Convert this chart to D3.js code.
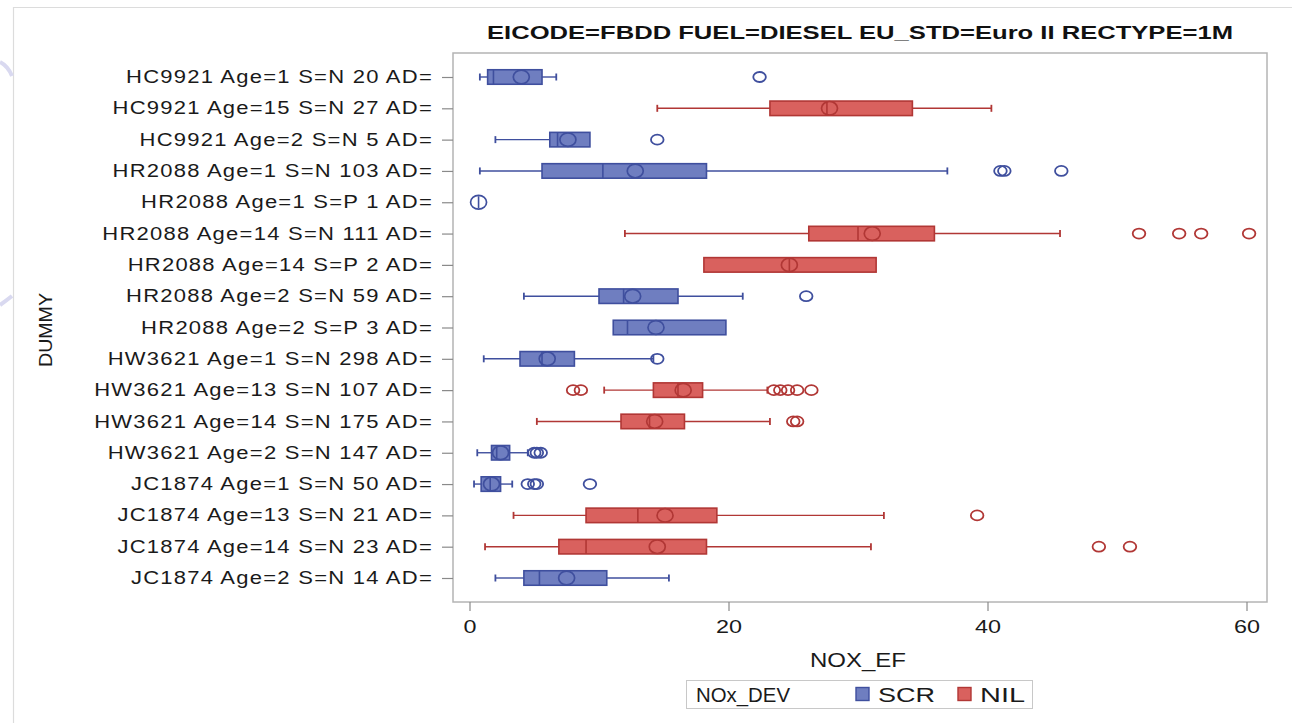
<!DOCTYPE html>
<html>
<head>
<meta charset="utf-8">
<script src="https://cdn.jsdelivr.net/npm/d3@7"></script>
<style>
  html, body { margin: 0; padding: 0; background: #fff; }
  svg { display: block; }
</style>
</head>
<body>
<svg id="chart" width="1292" height="723"></svg>
<script>
// Box plot of NOX_EF by vehicle group, coloured by NOx_DEV
const categories = [
  "HC9921 Age=1 S=N 20 AD=",
  "HC9921 Age=15 S=N 27 AD=",
  "HC9921 Age=2 S=N 5 AD=",
  "HR2088 Age=1 S=N 103 AD=",
  "HR2088 Age=1 S=P 1 AD=",
  "HR2088 Age=14 S=N 111 AD=",
  "HR2088 Age=14 S=P 2 AD=",
  "HR2088 Age=2 S=N 59 AD=",
  "HR2088 Age=2 S=P 3 AD=",
  "HW3621 Age=1 S=N 298 AD=",
  "HW3621 Age=13 S=N 107 AD=",
  "HW3621 Age=14 S=N 175 AD=",
  "HW3621 Age=2 S=N 147 AD=",
  "JC1874 Age=1 S=N 50 AD=",
  "JC1874 Age=13 S=N 21 AD=",
  "JC1874 Age=14 S=N 23 AD=",
  "JC1874 Age=2 S=N 14 AD="
];
const noxDev      = ["SCR","NIL","SCR","SCR","SCR","NIL","NIL","SCR","SCR","SCR","NIL","NIL","SCR","SCR","NIL","NIL","SCR"];
const whiskerLow  = [0.8, 14.5, 2.0, 0.8, null, 12.0, null, 4.2, null, 1.1, 10.4, 5.2, 0.6, 0.35, 3.4, 1.2, 2.0];
const q1          = [1.4, 23.2, 6.2, 5.6, 0.7, 26.2, 18.1, 10.0, 11.1, 3.9, 14.2, 11.7, 1.7, 0.9, 9.0, 6.9, 4.2];
const median      = [1.85, 27.6, 6.8, 10.3, 0.7, 30.0, 24.7, 11.9, 12.2, 5.6, 16.1, 13.9, 2.1, 1.6, 13.0, 9.0, 5.4];
const mean        = [4.0, 27.8, 7.6, 12.8, 0.7, 31.1, 24.7, 12.6, 14.4, 6.0, 16.5, 14.3, 2.4, 1.7, 15.1, 14.5, 7.5];
const q3          = [5.6, 34.2, 9.3, 18.3, 0.7, 35.9, 31.4, 16.1, 19.8, 8.1, 18.0, 16.6, 3.1, 2.4, 19.1, 18.3, 10.6];
const whiskerHigh = [6.7, 40.3, null, 36.9, null, 45.6, null, 21.1, null, 14.2, 23.0, 23.2, 4.5, 3.3, 32.0, 31.0, 15.4];
const outliers    = [
  [22.4],
  [],
  [14.5],
  [41.0, 41.3, 45.7],
  [],
  [51.7, 54.8, 56.5, 60.2],
  [],
  [26.0],
  [],
  [14.5],
  [8.0, 8.6, 23.5, 24.0, 24.6, 25.3, 26.4],
  [25.0, 25.3],
  [5.0, 5.2, 5.5],
  [4.5, 5.0, 5.2, 9.3],
  [39.2],
  [48.6, 51.0],
  []
];
const xTicks = [0, 20, 40, 60];
const legendKeys = ["SCR", "NIL"];

const fills   = { SCR: "#6f7ec0", NIL: "#d9615e" };
const strokes = { SCR: "#3f4f9e", NIL: "#b13735" };

const svg = d3.select("#chart");
const font = "'Liberation Sans', Arial, sans-serif";
const narrow = "'Liberation Sans Narrow', 'Arial Narrow', 'Liberation Sans', Arial, sans-serif";

// page frame and corner decoration
svg.append("path")
  .attr("d", "M13.5,723 V7.5 H1292")
  .attr("fill", "none").attr("stroke", "#dcdcdc").attr("stroke-width", 1.2);
svg.append("path")
  .attr("d", "M0,62 Q8,66 12,76")
  .attr("fill", "none").attr("stroke", "#d9d9f0").attr("stroke-width", 4);
svg.append("path")
  .attr("d", "M0,305 Q7,300 12,296")
  .attr("fill", "none").attr("stroke", "#d9d9f0").attr("stroke-width", 4);

const plot = { left: 453, right: 1267, top: 53, bottom: 602 };

const x = d3.scaleLinear().domain([0, 60]).range([469.5, 1246.5]);
// row centres
const y = d3.scalePoint().domain(categories).range([77, 578]);
const boxH = 14.5;

// plot frame
svg.append("rect")
  .attr("x", plot.left).attr("y", plot.top)
  .attr("width", plot.right - plot.left).attr("height", plot.bottom - plot.top)
  .attr("fill", "none").attr("stroke", "#b4b4b4").attr("stroke-width", 1.5);

// title
svg.append("text")
  .attr("x", 860).attr("y", 39)
  .attr("text-anchor", "middle")
  .attr("font-family", narrow).attr("font-weight", "bold")
  .attr("font-size", 19)
  .attr("textLength", 746).attr("lengthAdjust", "spacingAndGlyphs")
  .attr("fill", "#111")
  .text("EICODE=FBDD FUEL=DIESEL EU_STD=Euro II RECTYPE=1M");

// y axis
const yAxis = svg.append("g")
  .attr("transform", `translate(${plot.left},0)`)
  .call(d3.axisLeft(y).tickSize(11).tickPadding(9));
yAxis.select(".domain").remove();
yAxis.selectAll(".tick line").attr("stroke", "#8a8a8a").attr("stroke-width", 1.2);
const yLabels = yAxis.selectAll(".tick text")
  .attr("font-family", font).attr("font-size", 17.5)
  .attr("letter-spacing", "1px")
  .attr("fill", "#1a1a1a");
// widen the category labels uniformly
const w0 = yLabels.node().getComputedTextLength();
const widen = 307 / w0;
yLabels.each(function () {
  const w = this.getComputedTextLength();
  d3.select(this).attr("textLength", w * widen).attr("lengthAdjust", "spacingAndGlyphs");
});

// x axis
const xAxis = svg.append("g")
  .attr("transform", `translate(0,${plot.bottom})`)
  .call(d3.axisBottom(x).tickValues(xTicks).tickSize(9).tickPadding(9));
xAxis.select(".domain").remove();
xAxis.selectAll(".tick line").attr("stroke", "#8a8a8a").attr("stroke-width", 1.2);
xAxis.selectAll(".tick text")
  .attr("font-family", narrow).attr("font-size", 19)
  .attr("fill", "#1a1a1a")
  .each(function (d) {
    d3.select(this).attr("textLength", String(d).length * 13).attr("lengthAdjust", "spacingAndGlyphs");
  });

// axis titles
svg.append("text")
  .attr("x", 858).attr("y", 667)
  .attr("text-anchor", "middle")
  .attr("font-family", narrow).attr("font-size", 20)
  .attr("textLength", 96).attr("lengthAdjust", "spacingAndGlyphs")
  .attr("fill", "#1a1a1a")
  .text("NOX_EF");
svg.append("text")
  .attr("transform", "translate(52,330) rotate(-90)")
  .attr("text-anchor", "middle")
  .attr("font-family", narrow).attr("font-size", 19)
  .attr("textLength", 74).attr("lengthAdjust", "spacingAndGlyphs")
  .attr("fill", "#1a1a1a")
  .text("DUMMY");

// boxes
const rows = categories.map((c, i) => ({
  c, g: noxDev[i], wl: whiskerLow[i], q1: q1[i], med: median[i], mean: mean[i],
  q3: q3[i], wh: whiskerHigh[i], out: outliers[i]
}));

const capH = 7;
const g = svg.append("g");
rows.forEach(r => {
  const cy = y(r.c);
  const col = strokes[r.g];
  const rg = g.append("g");
  // whiskers
  if (r.wl !== null) {
    rg.append("line").attr("x1", x(r.wl)).attr("x2", x(r.q1)).attr("y1", cy).attr("y2", cy)
      .attr("stroke", col).attr("stroke-width", 1.4);
    rg.append("line").attr("x1", x(r.wl)).attr("x2", x(r.wl)).attr("y1", cy - capH / 2).attr("y2", cy + capH / 2)
      .attr("stroke", col).attr("stroke-width", 1.8);
  }
  if (r.wh !== null) {
    rg.append("line").attr("x1", x(r.q3)).attr("x2", x(r.wh)).attr("y1", cy).attr("y2", cy)
      .attr("stroke", col).attr("stroke-width", 1.4);
    rg.append("line").attr("x1", x(r.wh)).attr("x2", x(r.wh)).attr("y1", cy - capH / 2).attr("y2", cy + capH / 2)
      .attr("stroke", col).attr("stroke-width", 1.8);
  }
  // box
  if (r.q3 > r.q1) {
    rg.append("rect")
      .attr("x", x(r.q1)).attr("y", cy - boxH / 2)
      .attr("width", x(r.q3) - x(r.q1)).attr("height", boxH)
      .attr("fill", fills[r.g]).attr("stroke", col).attr("stroke-width", 1.6);
  }
  // median
  const mh = r.q3 > r.q1 ? boxH / 2 : 6;
  rg.append("line")
    .attr("x1", x(r.med)).attr("x2", x(r.med))
    .attr("y1", cy - mh).attr("y2", cy + mh)
    .attr("stroke", col).attr("stroke-width", 1.6);
  // mean
  rg.append("ellipse")
    .attr("cx", x(r.mean)).attr("cy", cy).attr("rx", 8).attr("ry", 6.8)
    .attr("fill", "none").attr("stroke", col).attr("stroke-width", 1.7);
  // outliers
  rg.selectAll(".out").data(r.out).join("ellipse")
    .attr("cx", d => x(d)).attr("cy", cy).attr("rx", 6.3).attr("ry", 5)
    .attr("fill", "none").attr("stroke", col).attr("stroke-width", 1.8);
});

// legend
const lg = svg.append("g");
lg.append("rect").attr("x", 686.5).attr("y", 680.5).attr("width", 346).attr("height", 28)
  .attr("fill", "#fff").attr("stroke", "#c8c8c8").attr("stroke-width", 1);
lg.append("text").attr("x", 696).attr("y", 702)
  .attr("font-family", narrow).attr("font-size", 20)
  .attr("textLength", 94).attr("lengthAdjust", "spacingAndGlyphs")
  .attr("fill", "#1a1a1a").text("NOx_DEV");
const lx = d3.scalePoint().domain(legendKeys).range([856, 958]);
const keyWidth = { SCR: 57, NIL: 45 };
legendKeys.forEach(k => {
  lg.append("rect").attr("x", lx(k)).attr("y", 687.5).attr("width", 13).attr("height", 13)
    .attr("fill", fills[k]).attr("stroke", strokes[k]).attr("stroke-width", 1.4);
  lg.append("text").attr("x", lx(k) + 22).attr("y", 702)
    .attr("font-family", narrow).attr("font-size", 20)
    .attr("textLength", keyWidth[k]).attr("lengthAdjust", "spacingAndGlyphs")
    .attr("fill", "#1a1a1a").text(k);
});
</script>
</body>
</html>
